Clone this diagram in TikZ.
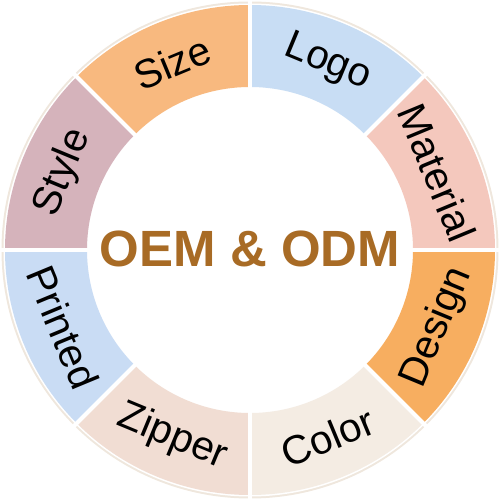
\documentclass[tikz,border=0pt]{standalone}
\usepackage{fontspec}
\setmainfont{Liberation Sans}

\definecolor{logoblue}{HTML}{C8DDF4}
\definecolor{materialpink}{HTML}{F4C8BD}
\definecolor{designorange}{HTML}{F7AE60}
\definecolor{colorcream}{HTML}{F4ECE3}
\definecolor{zipperbeige}{HTML}{F1DDD3}
\definecolor{printedblue}{HTML}{C9DCF4}
\definecolor{stylemauve}{HTML}{D5B3BB}
\definecolor{sizeorange}{HTML}{F8B97F}
\definecolor{rimcream}{HTML}{EFE7DD}
\definecolor{titlebrown}{HTML}{A86B25}

\tikzset{
  segtext/.style={font=\fontsize{23}{23}\selectfont, text=black, inner sep=0pt},
  title/.style={font=\fontsize{29}{29}\selectfont\bfseries, text=titlebrown, inner sep=0pt}
}

\begin{document}
\begin{tikzpicture}

    % --- Frame ---
    \useasboundingbox (-5,-5) rectangle (5,5);
    \coordinate (O) at (0,0);

    % --- Outer rim ---
    \fill[rimcream] (O) circle (4.97);
    \fill[white] (O) circle (4.93);

    % --- Ring segments ---
    % angle of segment centre / colour / node name / rotation / text
    \foreach \ang/\col/\name/\rot/\txt in {
        67.5/logoblue/logo/-22.5/Logo,
        22.5/materialpink/material/-67.5/Material,
        -22.5/designorange/design/67.5/Design,
        -67.5/colorcream/colour/22.5/Color,
        -112.5/zipperbeige/zipper/-22.5/Zipper,
        -157.5/printedblue/printed/-67.5/Printed,
        157.5/stylemauve/style/67.5/Style,
        112.5/sizeorange/size/22.5/Size}{
        \fill[\col] (\ang-22.5:3.26) -- (\ang-22.5:4.9)
            arc[start angle=\ang-22.5, end angle=\ang+22.5, radius=4.9]
            -- (\ang+22.5:3.26)
            arc[start angle=\ang+22.5, end angle=\ang-22.5, radius=3.26] -- cycle;
        \node[segtext, rotate=\rot] (\name) at (\ang:4.05) {\txt};
    }

    % --- White gaps between segments ---
    \foreach \ang in {0,45,...,315}
        \draw[white, line width=2.4pt] (\ang:3.1) -- (\ang:5.0);

    % --- Centre title ---
    \node[title] (title) at (0,0.02) {OEM \& ODM};

\end{tikzpicture}
\end{document}
